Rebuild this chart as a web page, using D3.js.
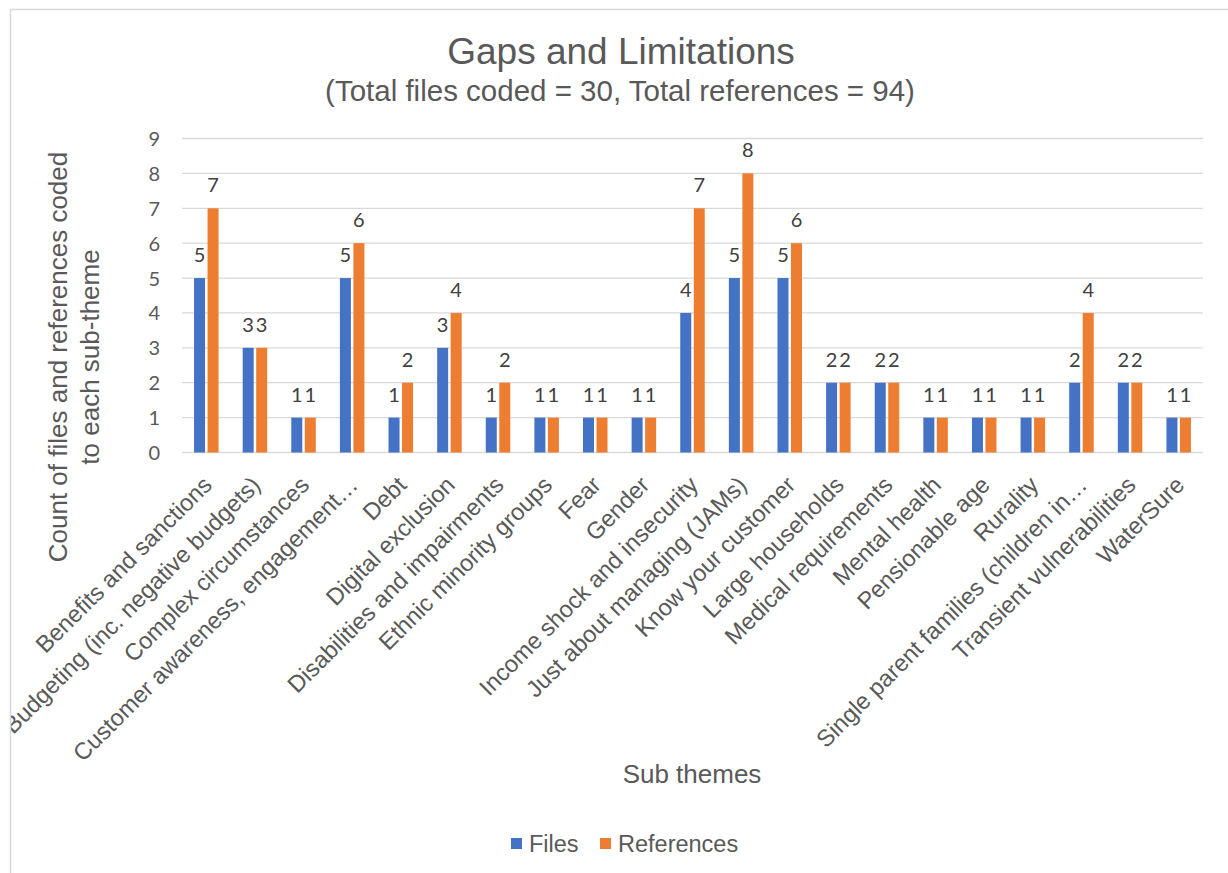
<!DOCTYPE html>
<html>
<head>
<meta charset="utf-8">
<script src="https://cdn.jsdelivr.net/npm/d3@7"></script>
<style>
  html, body { margin: 0; padding: 0; background: #fff; }
  svg { display: block; }
</style>
</head>
<body>
<svg id="chart" width="1228" height="873"></svg>
<script>
// Sub-theme categories (long names are shown shortened with an ellipsis)
const categories = [
  "Benefits and sanctions",
  "Budgeting (inc. negative budgets)",
  "Complex circumstances",
  "Customer awareness, engagement\u2026",
  "Debt",
  "Digital exclusion",
  "Disabilities and impairments",
  "Ethnic minority groups",
  "Fear",
  "Gender",
  "Income shock and insecurity",
  "Just about managing (JAMs)",
  "Know your customer",
  "Large households",
  "Medical requirements",
  "Mental health",
  "Pensionable age",
  "Rurality",
  "Single parent families (children in\u2026",
  "Transient vulnerabilities",
  "WaterSure"
];

const seriesNames = ["Files", "References"];
const filesValues = [5, 3, 1, 5, 1, 3, 1, 1, 1, 1, 4, 5, 5, 2, 2, 1, 1, 1, 2, 2, 1];
const referencesValues = [7, 3, 1, 6, 2, 4, 2, 1, 1, 1, 7, 8, 6, 2, 2, 1, 1, 1, 4, 2, 1];
const yTicks = [0, 1, 2, 3, 4, 5, 6, 7, 8, 9];

const titleText = "Gaps and Limitations";
const subtitleText = "(Total files coded = 30, Total references = 94)";
const yTitleLines = ["Count of files and references coded", "to each sub-theme"];
const xTitleText = "Sub themes";

const colors = { Files: "#4472C4", References: "#ED7D31" };

const svg = d3.select("#chart");
const W = 1228, H = 873;
const plot = { left: 182, right: 1203, top: 138.5, bottom: 452.5 };

// chart area clip + frame
svg.append("defs").append("clipPath").attr("id", "area")
  .append("rect").attr("x", 11).attr("y", 10).attr("width", W).attr("height", H);

const root = svg.append("g").attr("clip-path", "url(#area)");

svg.append("rect")
  .attr("x", 10.5).attr("y", 9.5)
  .attr("width", W + 20).attr("height", H + 20)
  .attr("fill", "none").attr("stroke", "#d9d9d9").attr("stroke-width", 1.5);

const x = d3.scaleBand().domain(categories).range([plot.left, plot.right]).padding(0);
const half = 12.25;
const xs = d3.scaleBand().domain(seriesNames)
  .range([x.bandwidth() / 2 - half, x.bandwidth() / 2 + half])
  .paddingInner(0.185).paddingOuter(0);
const y = d3.scaleLinear().domain([0, 9]).range([plot.bottom, plot.top]);

// gridlines
root.append("g")
  .selectAll("line").data(yTicks).join("line")
  .attr("x1", plot.left).attr("x2", plot.right)
  .attr("y1", d => y(d)).attr("y2", d => y(d))
  .attr("stroke", "#d9d9d9").attr("stroke-width", 1.3);

// y axis labels
const yAxis = d3.axisLeft(y).tickValues(yTicks).tickSize(0).tickPadding(0).tickFormat(d3.format("d"));
const yg = root.append("g").attr("transform", `translate(${plot.left - 22},0)`).call(yAxis);
yg.select(".domain").remove();
yg.selectAll("text")
  .attr("font-family", "Lato, 'Open Sans', sans-serif")
  .attr("font-size", 20)
  .attr("fill", "#595959")
  .attr("dy", "0.35em");

// bars
const rows = categories.map((c, i) => ({
  cat: c,
  vals: [
    { s: "Files", v: filesValues[i] },
    { s: "References", v: referencesValues[i] }
  ]
}));

const groups = root.append("g").selectAll("g").data(rows).join("g")
  .attr("transform", d => `translate(${x(d.cat)},0)`);

groups.selectAll("rect").data(d => d.vals).join("rect")
  .attr("x", d => xs(d.s))
  .attr("width", xs.bandwidth())
  .attr("y", d => y(d.v))
  .attr("height", d => y(0) - y(d.v))
  .attr("fill", d => colors[d.s]);

// value labels
groups.selectAll("text").data(d => d.vals).join("text")
  .attr("x", d => xs(d.s) + xs.bandwidth() / 2)
  .attr("y", d => y(d.v) - 16)
  .attr("text-anchor", "middle")
  .attr("font-family", "Lato, 'Open Sans', sans-serif")
  .attr("font-size", 20)
  .attr("fill", "#404040")
  .text(d => d.v);

// category labels, rotated
const xAxis = d3.axisBottom(x).tickSize(0).tickPadding(0);
const xg = root.append("g").attr("transform", `translate(0,${plot.bottom})`).call(xAxis);
xg.select(".domain").remove();
xg.selectAll(".tick text")
  .attr("font-family", "'Liberation Sans', Arial, sans-serif")
  .attr("font-size", 23.6)
  .attr("fill", "#595959")
  .attr("text-anchor", "end")
  .attr("y", 0).attr("dy", 0)
  .attr("transform", "translate(7,34) rotate(-45)");

// titles
const sans = "'Liberation Sans', Arial, sans-serif";
root.append("text")
  .attr("x", 621).attr("y", 64)
  .attr("text-anchor", "middle")
  .attr("font-family", sans).attr("font-size", 37)
  .attr("fill", "#595959")
  .text(titleText);

root.append("text")
  .attr("x", 620).attr("y", 101)
  .attr("text-anchor", "middle")
  .attr("font-family", sans).attr("font-size", 29.5)
  .attr("fill", "#595959")
  .text(subtitleText);

const yTitle = root.append("text")
  .attr("transform", `translate(67,357) rotate(-90)`)
  .attr("text-anchor", "middle")
  .attr("font-family", sans).attr("font-size", 26)
  .attr("fill", "#595959");
yTitle.selectAll("tspan").data(yTitleLines).join("tspan")
  .attr("x", 0).attr("dy", (d, i) => i === 0 ? 0 : 32)
  .text(d => d);

root.append("text")
  .attr("x", 692).attr("y", 783)
  .attr("text-anchor", "middle")
  .attr("font-family", sans).attr("font-size", 26)
  .attr("fill", "#595959")
  .text(xTitleText);

// legend
const legendItems = [
  { name: "Files", sx: 511, tx: 529 },
  { name: "References", sx: 600, tx: 618 }
];
const lg = root.append("g");
lg.selectAll("rect").data(legendItems).join("rect")
  .attr("x", d => d.sx).attr("y", 838)
  .attr("width", 11).attr("height", 11)
  .attr("fill", d => colors[d.name]);
lg.selectAll("text").data(legendItems).join("text")
  .attr("x", d => d.tx).attr("y", 852)
  .attr("font-family", sans).attr("font-size", 23.5)
  .attr("fill", "#595959")
  .text(d => d.name);
</script>
</body>
</html>
